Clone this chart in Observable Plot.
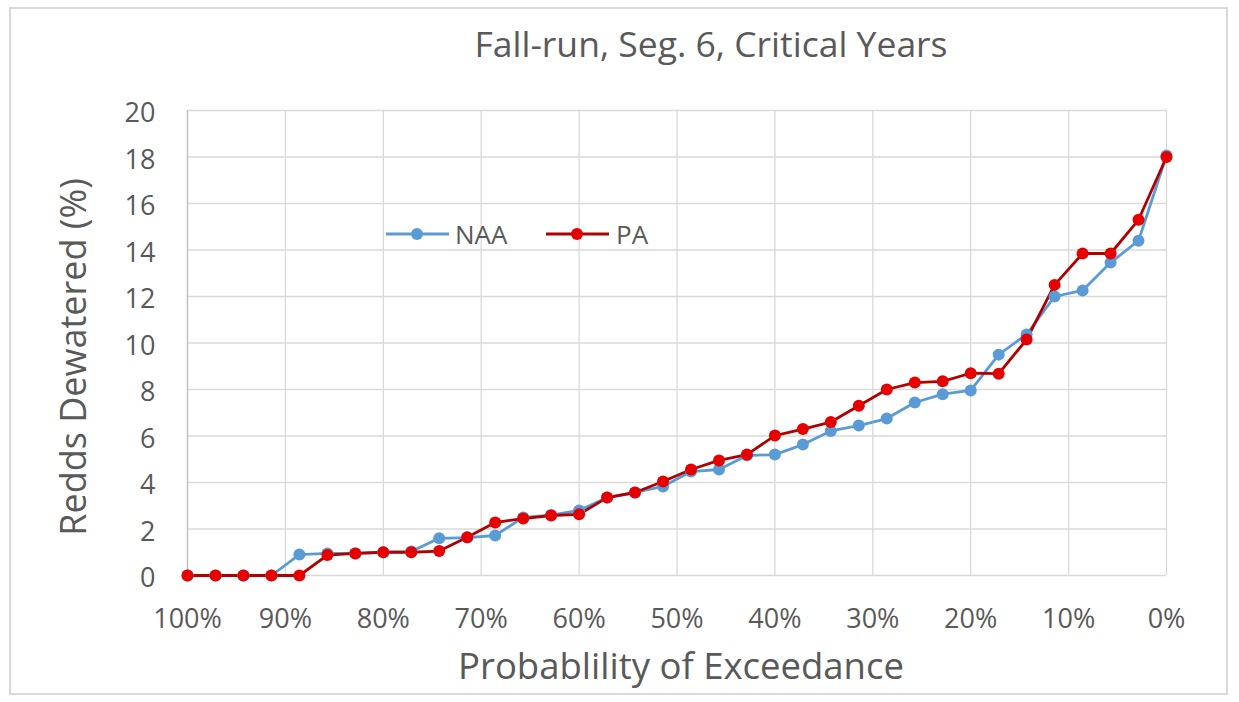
<!DOCTYPE html>
<html>
<head>
<meta charset="utf-8">
<script src="https://cdn.jsdelivr.net/npm/d3@7"></script>
<script src="https://cdn.jsdelivr.net/npm/@observablehq/plot@0.6"></script>
<style>
  body { margin: 0; background: #fff; }
  #wrap { position: relative; width: 1239px; height: 702px; font-family: "Open Sans", sans-serif; color: #595959; overflow: hidden; }
  #border { position: absolute; left: 9px; top: 7px; width: 1219px; height: 688px; border: 2px solid #d9d9d9; box-sizing: border-box; }
  #title { position: absolute; left: 0; width: 1422px; top: 26px; text-align: center; font-size: 35.5px; line-height: 35px; white-space: nowrap; }
  #plot { position: absolute; left: 0; top: 0; }
  .leg { position: absolute; font-size: 26px; line-height: 30px; white-space: nowrap; }
  .leg svg { display: block; }
</style>
</head>
<body>
<div id="wrap">
  <div id="border"></div>
  <div id="plot"></div>
  <div id="title">Fall-run, Seg. 6, Critical Years</div>
</div>
<script>
// Probability of exceedance (%) for each of the 36 ranked years
const exceedance = [100, 97.14, 94.29, 91.43, 88.57, 85.71, 82.86, 80, 77.14, 74.29, 71.43, 68.57,
  65.71, 62.86, 60, 57.14, 54.29, 51.43, 48.57, 45.71, 42.86, 40, 37.14, 34.29,
  31.43, 28.57, 25.71, 22.86, 20, 17.14, 14.29, 11.43, 8.57, 5.71, 2.86, 0];
const naa = [0, 0, 0, 0, 0.9, 0.95, 0.95, 1.0, 1.03, 1.6, 1.63, 1.72,
  2.5, 2.6, 2.8, 3.35, 3.57, 3.83, 4.47, 4.56, 5.16, 5.2, 5.63, 6.22,
  6.45, 6.75, 7.44, 7.8, 7.96, 9.5, 10.37, 12.0, 12.26, 13.46, 14.4, 18.06];
const pa = [0, 0, 0, 0, 0, 0.88, 0.95, 1.0, 1.0, 1.05, 1.65, 2.28,
  2.45, 2.58, 2.63, 3.35, 3.57, 4.04, 4.56, 4.95, 5.2, 6.02, 6.3, 6.6,
  7.3, 8.0, 8.3, 8.35, 8.7, 8.68, 10.15, 12.5, 13.85, 13.85, 15.3, 18.0];
const xTicks = [100, 90, 80, 70, 60, 50, 40, 30, 20, 10, 0];
const yTicks = [0, 2, 4, 6, 8, 10, 12, 14, 16, 18, 20];
const seriesNames = ["NAA", "PA"];
const lineColors = ["#5B9BD5", "#B00000"];
const dotColors = ["#5B9BD5", "#E60000"];

const rows = [];
[naa, pa].forEach((vals, s) => vals.forEach((v, i) => rows.push({series: seriesNames[s], x: exceedance[i], y: v})));

const chart = Plot.plot({
  width: 1239,
  height: 702,
  marginLeft: 187,
  marginRight: 73,
  marginTop: 110,
  marginBottom: 127,
  style: {fontFamily: "Open Sans, sans-serif", fontSize: "27px", color: "#595959", background: "transparent"},
  x: {domain: [100, 0]},
  y: {domain: [0, 20]},
  color: {domain: seriesNames, range: lineColors},
  marks: [
    Plot.gridY(yTicks, {stroke: "#d9d9d9", strokeOpacity: 1, strokeWidth: 1.3}),
    Plot.gridX(xTicks, {stroke: "#d9d9d9", strokeOpacity: 1, strokeWidth: 1.3}),
    Plot.ruleX([100], {stroke: "#bfbfbf", strokeWidth: 1.3}),
    Plot.axisX(xTicks, {tickSize: 0, tickPadding: 33, tickFormat: d => d + "%", label: null, fontSize: 27}),
    Plot.axisY(yTicks, {tickSize: 0, tickPadding: 32, label: null, fontSize: 27, dy: 3}),
    Plot.line(rows, {x: "x", y: "y", z: "series", stroke: "series", strokeWidth: 2.8}),
    Plot.dot(rows, {x: "x", y: "y", fill: d => dotColors[seriesNames.indexOf(d.series)], r: 6, stroke: "none"}),
    Plot.text(["Probablility of Exceedance"], {frameAnchor: "bottom", dx: 4, dy: 103, fontSize: 36.5, fill: "#595959"}),
    Plot.text(["Redds Dewatered (%)"], {frameAnchor: "left", textAnchor: "middle", dx: -113, dy: 14, rotate: -90, fontSize: 36, fill: "#595959"})
  ]
});
document.getElementById("plot").appendChild(chart);

// legend
const wrap = document.getElementById("wrap");
const legendLayout = [{lineX: 386, textX: 455}, {lineX: 546, textX: 616}];
seriesNames.forEach((name, s) => {
  const sw = d3.create("svg").attr("width", 63).attr("height", 30)
    .style("position", "absolute").style("left", legendLayout[s].lineX + "px").style("top", "219px");
  sw.append("line").attr("x1", 0).attr("x2", 63).attr("y1", 15).attr("y2", 15).attr("stroke", lineColors[s]).attr("stroke-width", 2.8);
  sw.append("circle").attr("cx", 31).attr("cy", 15).attr("r", 6).attr("fill", dotColors[s]);
  wrap.appendChild(sw.node());
  const label = document.createElement("div");
  label.className = "leg";
  label.textContent = name;
  label.style.left = legendLayout[s].textX + "px";
  label.style.top = "219px";
  wrap.appendChild(label);
});
</script>
</body>
</html>
